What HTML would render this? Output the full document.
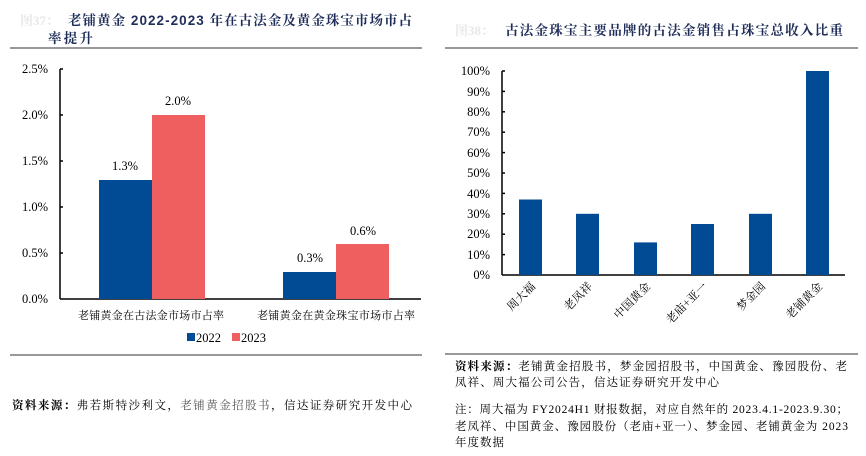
<!DOCTYPE html>
<html><head><meta charset="utf-8"><style>
body{margin:0;background:#fff;}
svg{display:block;font-family:"Liberation Serif","Noto Serif CJK SC",serif;}
</style></head><body>
<svg width="866" height="456" viewBox="0 0 866 456">
<!-- left header -->
<text x="20" y="25" font-size="13" fill="#e8e8e8" font-weight="bold">图37：</text>
<text x="68" y="25" font-size="13.5" fill="#1f2d5a" font-weight="bold" font-family="Liberation Sans,Noto Serif CJK SC,serif" textLength="344" lengthAdjust="spacing">老铺黄金 2022-2023 年在古法金及黄金珠宝市场市占</text>
<text x="48" y="43" font-size="13.5" fill="#1f2d5a" font-weight="bold" font-family="Noto Serif CJK SC,serif" textLength="45" lengthAdjust="spacing">率提升</text>
<rect x="10" y="47" width="412" height="2" fill="#999"/>
<!-- left axes -->
<g font-size="12.5" fill="#000" text-anchor="end">
<text x="48" y="73">2.5%</text><text x="48" y="119">2.0%</text><text x="48" y="165">1.5%</text>
<text x="48" y="211">1.0%</text><text x="48" y="257">0.5%</text><text x="48" y="303">0.0%</text>
</g>
<g stroke="#000" stroke-width="1.5">
<line x1="60" y1="69" x2="60" y2="299"/><line x1="60" y1="299" x2="421" y2="299"/>
<line x1="60" y1="69" x2="63" y2="69"/><line x1="60" y1="115" x2="63" y2="115"/><line x1="60" y1="161" x2="63" y2="161"/><line x1="60" y1="207" x2="63" y2="207"/><line x1="60" y1="253" x2="63" y2="253"/>
</g>
<rect x="99" y="180" width="53" height="119" fill="#014a94"/>
<rect x="152" y="115" width="53" height="184" fill="#ef5f5f"/>
<rect x="283" y="272" width="53" height="27" fill="#014a94"/>
<rect x="336" y="244" width="53" height="55" fill="#ef5f5f"/>
<g font-size="12.5" text-anchor="middle">
<text x="125" y="170">1.3%</text><text x="178" y="105">2.0%</text>
<text x="310" y="262">0.3%</text><text x="363" y="235">0.6%</text>
</g>
<g font-size="11" font-family="Noto Serif CJK SC,serif">
<text x="78" y="319" textLength="146" lengthAdjust="spacing">老铺黄金在古法金市场市占率</text>
<text x="257" y="319" textLength="158" lengthAdjust="spacing">老铺黄金在黄金珠宝市场市占率</text>
</g>
<rect x="187" y="333" width="8" height="8" fill="#014a94"/>
<text x="196" y="342" font-size="12.5">2022</text>
<rect x="232" y="333" width="8" height="8" fill="#ef5f5f"/>
<text x="241" y="342" font-size="12.5">2023</text>
<rect x="10" y="354" width="412" height="2" fill="#999"/>
<text x="12" y="409" font-size="11.5" font-family="Noto Serif CJK SC,serif" textLength="400" lengthAdjust="spacing"><tspan font-weight="bold">资料来源：</tspan>弗若斯特沙利文，<tspan fill="#555">老铺黄金招股书</tspan>，信达证券研究开发中心</text>

<!-- right header -->
<text x="455" y="35" font-size="13" fill="#e8e8e8" font-weight="bold">图38：</text>
<text x="505" y="35" font-size="13.5" fill="#1f2d5a" font-weight="bold" font-family="Noto Serif CJK SC,serif" textLength="338" lengthAdjust="spacing">古法金珠宝主要品牌的古法金销售占珠宝总收入比重</text>
<rect x="445" y="47" width="413" height="2" fill="#999"/>
<g font-size="12.5" text-anchor="end">
<text x="490" y="75">100%</text><text x="490" y="96">90%</text><text x="490" y="116">80%</text><text x="490" y="136">70%</text><text x="490" y="157">60%</text><text x="490" y="177">50%</text><text x="490" y="198">40%</text><text x="490" y="218">30%</text><text x="490" y="238">20%</text><text x="490" y="259">10%</text><text x="490" y="279">0%</text>
</g>
<g stroke="#000" stroke-width="1.5">
<line x1="502" y1="71" x2="502" y2="275"/><line x1="502" y1="275" x2="845" y2="275"/>
<line x1="502" y1="71" x2="505" y2="71"/><line x1="502" y1="91.4" x2="505" y2="91.4"/><line x1="502" y1="111.8" x2="505" y2="111.8"/><line x1="502" y1="132.2" x2="505" y2="132.2"/><line x1="502" y1="152.6" x2="505" y2="152.6"/><line x1="502" y1="173" x2="505" y2="173"/><line x1="502" y1="193.4" x2="505" y2="193.4"/><line x1="502" y1="213.8" x2="505" y2="213.8"/><line x1="502" y1="234.2" x2="505" y2="234.2"/><line x1="502" y1="254.6" x2="505" y2="254.6"/>
</g>
<g fill="#014a94">
<rect x="519" y="199.5" width="23" height="75.5"/>
<rect x="576" y="213.8" width="23" height="61.2"/>
<rect x="634" y="242.4" width="23" height="32.6"/>
<rect x="691" y="224" width="23" height="51"/>
<rect x="749" y="213.8" width="23" height="61.2"/>
<rect x="806" y="71" width="23" height="204"/>
</g>
<g font-size="11.5" text-anchor="end" font-family="Noto Serif CJK SC,serif">
<text transform="translate(536,287) rotate(-45)">周大福</text>
<text transform="translate(593,287) rotate(-45)">老凤祥</text>
<text transform="translate(651,287) rotate(-45)">中国黄金</text>
<text transform="translate(708,287) rotate(-45)">老庙+亚一</text>
<text transform="translate(766,287) rotate(-45)">梦金园</text>
<text transform="translate(823,287) rotate(-45)">老铺黄金</text>
</g>
<rect x="445" y="353" width="413" height="2" fill="#999"/>
<g font-size="11.5" font-family="Liberation Serif,Noto Serif CJK SC,serif">
<text x="455" y="370" textLength="392" lengthAdjust="spacing"><tspan font-weight="bold">资料来源：</tspan>老铺黄金招股书，梦金园招股书，中国黄金、豫园股份、老</text>
<text x="455" y="386" textLength="264" lengthAdjust="spacing">凤祥、周大福公司公告，信达证券研究开发中心</text>
<text x="455" y="413" textLength="393" lengthAdjust="spacing">注：周大福为 FY2024H1 财报数据，对应自然年的 2023.4.1-2023.9.30；</text>
<text x="455" y="430" textLength="393" lengthAdjust="spacing">老凤祥、中国黄金、豫园股份（老庙+亚一）、梦金园、老铺黄金为 2023</text>
<text x="455" y="446" textLength="49" lengthAdjust="spacing">年度数据</text>
</g>
</svg>
</body></html>
